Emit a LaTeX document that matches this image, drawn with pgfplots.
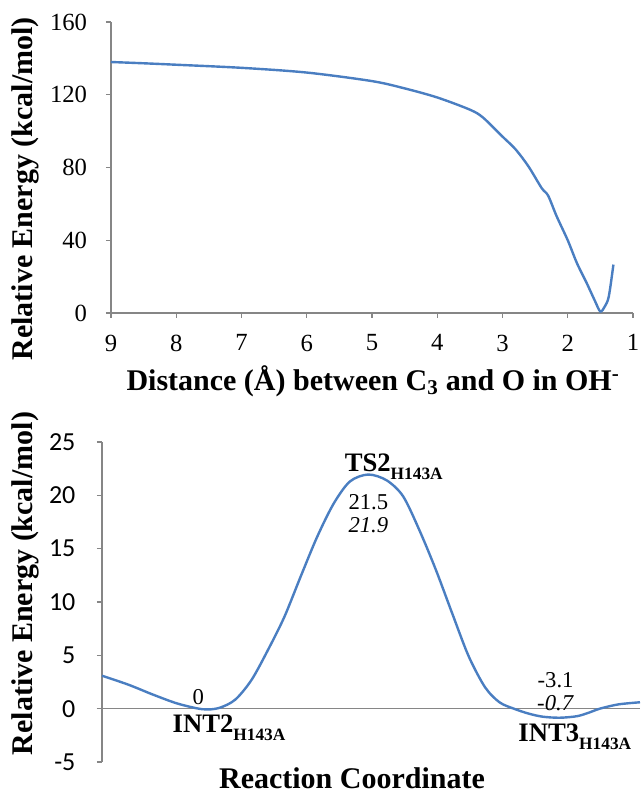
\documentclass[border=0pt]{standalone}
\usepackage{fontspec}
\setmainfont{Liberation Serif}
\newfontfamily\carlito{Carlito}
\usepackage{pgfplots}
\pgfplotsset{compat=1.18}

\definecolor{curve}{RGB}{74,126,193}
\definecolor{axgray}{RGB}{134,134,134}

\newcommand{\lblfont}{\rmfamily\bfseries\fontsize{22.5}{26}\selectfont}
\newcommand{\annfont}{\rmfamily\bfseries\fontsize{20}{24}\selectfont}
\newcommand{\numfont}{\rmfamily\fontsize{17}{19}\selectfont}
\newcommand{\sub}[1]{\raisebox{-0.3em}{\fontsize{13}{14}\selectfont #1}}

\begin{document}
\begin{tikzpicture}
\path[use as bounding box] (0,0) rectangle (480pt,594.75pt);

% top: energy vs distance
\begin{axis}[
  at={(83.25pt,360pt)}, anchor=south west,
  scale only axis, width=391.5pt, height=218.25pt,
  xmin=1, xmax=9, x dir=reverse,
  ymin=0, ymax=160,
  xtick={1,2,...,9}, xticklabels={1,2,3,4,5,6,7,8,9},
  ytick={0,40,...,160}, yticklabels={0,40,80,120,160},
  axis x line*=bottom, axis y line*=left,
  axis line style={axgray, line width=0.8pt, -},
  tick style={axgray, line width=0.8pt},
  tick align=outside, major tick length=3.75pt,
  xticklabel style={font=\rmfamily\fontsize{18.5}{20}\selectfont},
  yticklabel style={font=\rmfamily\fontsize{18.5}{20}\selectfont, anchor=east, inner sep=0pt, xshift=-14pt},
  xticklabel shift=9pt,
]
\addplot[curve, line width=1.8pt, smooth] coordinates {
  (9,138) (8.5,137.3) (8,136.5) (7,134.8) (6,132.2) (5,127.5)
  (4.5,123.5) (4,118.5) (3.5,111.8) (3.3,107.5) (3,97) (2.8,90)
  (2.6,80.5) (2.4,68.7) (2.3,64.5) (2.17,53.2) (2.0,40) (1.86,27.5)
  (1.71,16.5) (1.58,6.4) (1.5,0.8) (1.43,3.7) (1.37,9.2) (1.3,26.6)
};
\end{axis}

% bottom: reaction profile
\begin{axis}[
  at={(76.5pt,23.25pt)}, anchor=south west,
  scale only axis, width=403.5pt, height=240pt,
  xmin=0, xmax=1313, ymin=-5, ymax=25,
  xtick=\empty,
  ytick={-5,0,...,25}, yticklabels={-5,0,5,10,15,20,25},
  axis x line=none, axis y line*=left,
  axis line style={axgray, line width=0.8pt, -},
  tick style={axgray, line width=0.8pt},
  tick align=outside, major tick length=3.75pt,
  yticklabel style={font=\carlito\fontsize{19.5}{21}\selectfont, anchor=east, inner sep=0pt, xshift=-16pt},
  extra y ticks={0}, extra y tick labels={},
  extra y tick style={grid=major, major grid style={axgray, line width=0.8pt}},
  clip=false,
]
\addplot[curve, line width=1.8pt, smooth] coordinates {
  (0,3.09) (65,2.24) (125,1.31) (185,0.47) (245,-0.05) (285,0.06)
  (325,0.84) (365,2.7) (405,5.5) (445,8.6) (485,12.4) (525,16.1)
  (565,19.2) (605,21.3) (650,21.95) (695,21.4) (735,19.9) (775,16.7)
  (815,13) (855,8.9) (895,4.9) (935,2.0) (970,0.6) (1005,0)
  (1040,-0.45) (1075,-0.75) (1117,-0.85) (1160,-0.7) (1190,-0.35)
  (1215,0) (1260,0.4) (1313,0.6)
};
\node[anchor=base, inner sep=0pt, font=\annfont] at (axis cs:712,22.2) {TS2\sub{H143A}};
\node[anchor=base, inner sep=0pt, font=\numfont] at (axis cs:650,18.7) {21.5};
\node[anchor=base, inner sep=0pt, font=\numfont\itshape] at (axis cs:650,16.5) {21.9};
\node[anchor=base, inner sep=0pt, font=\numfont] at (axis cs:235,0.37) {0};
\node[anchor=base, inner sep=0pt, font=\annfont] at (axis cs:310,-2.28) {INT2\sub{H143A}};
\node[anchor=base, inner sep=0pt, font=\numfont] at (axis cs:1107,1.95) {-3.1};
\node[anchor=base, inner sep=0pt, font=\numfont\itshape] at (axis cs:1106,-0.2) {-0.7};
\node[anchor=base, inner sep=0pt, font=\annfont] at (axis cs:1154,-3.05) {INT3\sub{H143A}};
\end{axis}

% axis titles
\node[rotate=90, font=\lblfont] at (18.75pt,453pt) {Relative Energy (kcal/mol)};
\node[anchor=base, font=\lblfont] at (279.75pt,302pt) {Distance (Å) between C\textsubscript{3} and O in OH\textsuperscript{-}};
\node[rotate=90, font=\lblfont] at (18.75pt,157pt) {Relative Energy (kcal/mol)};
\node[anchor=base, font=\lblfont] at (264pt,3.75pt) {Reaction Coordinate};
\end{tikzpicture}
\end{document}
